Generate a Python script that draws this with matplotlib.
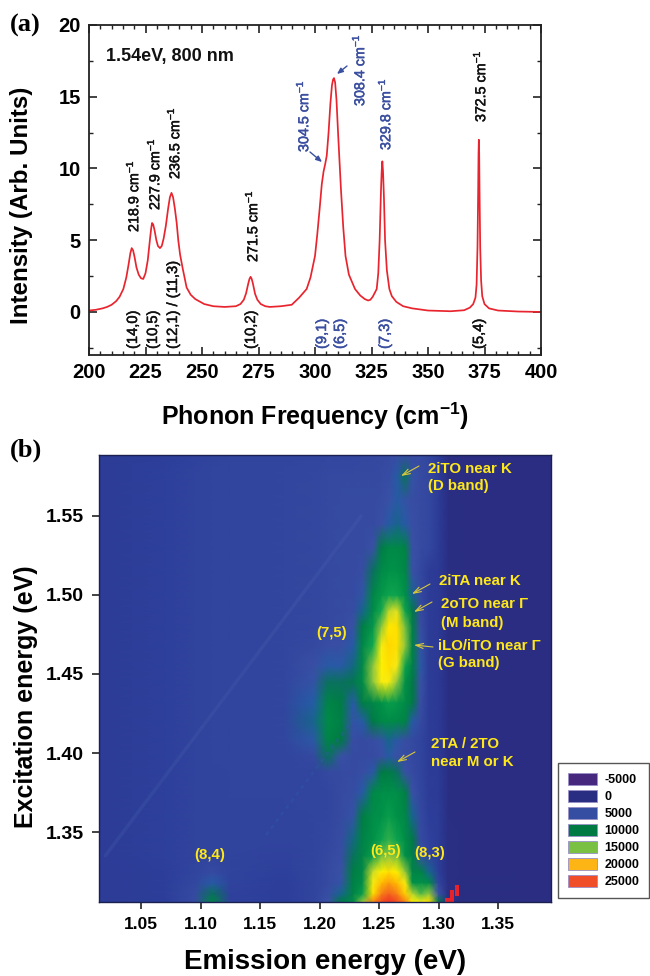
import numpy as np
import matplotlib
matplotlib.use("Agg")
import matplotlib.pyplot as plt
import matplotlib.patheffects as pe
from matplotlib.colors import LinearSegmentedColormap
from matplotlib.patches import Patch
from matplotlib.ticker import MultipleLocator

plt.rcParams['font.family'] = ['Liberation Sans', 'DejaVu Sans']
plt.rcParams['mathtext.fontset'] = 'custom'
plt.rcParams['mathtext.rm'] = 'Liberation Sans'
plt.rcParams['mathtext.bf'] = 'Liberation Sans:bold'
plt.rcParams['mathtext.it'] = 'Liberation Sans:italic'

# ---------- panel (a) spectrum ----------
freq = [200,203,206,208,210,212,213.5,215.2,216.5,217.5,218.3,218.9,219.5,220.2,221,222,223,224,225,226,227,227.5,227.9,
        228.4,229,229.8,230.5,231.4,232.2,233,234,235,235.8,236.5,237.2,238,238.8,239.5,240.3,241.5,243.2,245,247,
        251,255,260,265,267,268.5,269.5,270.5,271,271.5,272,272.5,273.5,274.5,276,278,280,285,289.7,293,
        296.3,298,300,301,302,303,303.8,304.5,305.2,306,306.8,307.5,308,308.4,308.9,309.5,310.2,311.5,312.5,313.5,
        315,317.7,320,322,323.5,324.5,325.5,326.5,327.3,328,328.6,329.2,329.5,329.8,330.1,330.5,331,331.8,332.9,334,
        336,339,343,350,360,366,368.5,370,371,371.5,371.9,372.2,372.35,372.5,372.65,372.8,373.1,373.5,374,375,377,
        381,390,400]
intensity = [0.1,0.15,0.25,0.35,0.5,0.75,1.05,1.6,2.4,3.3,4.1,4.45,4.3,3.8,3.1,2.6,2.35,2.3,2.7,3.6,5.1,5.8,6.2,
             6.1,5.7,5.0,4.6,4.45,4.6,5.1,6.0,7.2,8.0,8.3,8.0,7.2,6.2,5.0,4.0,3.0,1.7,1.2,0.9,
             0.55,0.4,0.35,0.4,0.55,0.85,1.3,2.0,2.3,2.45,2.3,2.0,1.25,0.85,0.55,0.4,0.35,0.4,0.5,1.0,
             1.6,2.4,3.9,5.4,7.1,8.9,9.8,10.3,10.9,12.5,14.5,15.8,16.2,16.3,16.0,14.8,12.5,8.5,5.9,3.9,
             2.6,1.6,1.15,0.9,0.8,0.85,1.05,1.35,1.6,2.7,5.0,8.5,9.8,10.5,9.8,8.0,5.0,2.9,1.6,1.1,
             0.7,0.4,0.25,0.1,0.05,0.12,0.3,0.55,1.0,1.9,4.5,8.5,11.0,12.0,11.0,8.5,4.5,2.2,1.1,0.55,0.25,
             0.1,0.03,0.0]

peak_labels = ["218.9", "227.9", "236.5", "271.5", "304.5", "308.4", "329.8", "372.5"]
chirality_labels = ["(14,0)", "(10,5)", "(12,1) / (11,3)", "(10,2)", "(9,1)", "(6,5)", "(7,3)", "(5,4)"]

# ---------- panel (b) map, intensity in thousands ----------
emission = [1.0147,1.07,1.095,1.11,1.125,1.17,1.195,1.207,1.218,1.228,1.236,1.245,1.252,1.258,1.265,1.272,1.278,
            1.285,1.292,1.300,1.308,1.316,1.325,1.3945]
excitation = [1.3057,1.311,1.318,1.325,1.335,1.345,1.36,1.375,1.388,1.398,1.408,1.42,1.432,1.445,1.455,1.468,
              1.48,1.49,1.50,1.515,1.53,1.545,1.56,1.575,1.5886]
map_k = [
 [3.0,3.5,4.5,8.5,3.8,3.6,4.0,5.0,7.0,10,15,24,26,27,26,24,19,18,20,7,0.8,0.5,0.4,0.3],
 [3.0,3.6,4.5,6.5,3.8,3.6,4.0,4.8,6.0,8.5,12,20,24,25,24,21,16,14,15,5,0.7,0.5,0.4,0.3],
 [3.0,3.6,4.3,5.5,3.9,3.6,4.0,4.6,5.2,8.0,10.5,18,22,23,22,18,11,11,10,4,0.7,0.5,0.4,0.3],
 [3.1,3.6,4.0,4.5,3.9,3.7,4.0,4.5,5.0,7.5,9.5,16.5,19,20,19,15,9,8.5,6,3.4,0.6,0.5,0.3,0.3],
 [3.1,3.7,3.9,4.0,3.9,3.8,4.0,4.4,4.8,6.5,9,12,14.5,15,14.5,11,8,5,4,3,0.6,0.5,0.3,0.3],
 [3.1,3.7,3.9,3.9,3.9,3.9,4.0,4.3,4.7,6.2,8.5,11,12.5,13.5,12.5,10.5,7,4.5,3.8,3,0.6,0.5,0.3,0.3],
 [3.2,3.7,3.9,3.9,3.9,3.9,4.0,4.2,4.6,5.2,7.5,10.5,11,12,11,9.5,6,4.4,3.5,3.0,0.6,0.4,0.3,0.3],
 [3.2,3.7,3.9,3.9,4.0,4.0,4.1,4.2,4.5,4.7,5.5,9.5,10.5,10.8,10.5,8,5,4.2,3.2,2.9,0.6,0.4,0.3,0.3],
 [3.2,3.7,3.9,3.9,4.0,4.0,4.1,4.4,4.5,4.6,4.8,5.4,7.0,7.5,6.5,5,4.6,4.1,3.2,2.9,0.6,0.4,0.3,0.3],
 [3.2,3.7,3.9,4.0,4.0,4.1,4.4,6.5,5.0,4.5,4.5,4.6,4.9,5.5,5.0,4.7,4.4,4.0,3.2,2.8,0.6,0.4,0.3,0.3],
 [3.2,3.7,3.9,4.0,4.0,4.2,5.4,9.0,7.0,4.8,4.6,4.8,5.2,6.0,5.4,4.8,4.4,4.0,3.2,2.8,0.6,0.4,0.3,0.3],
 [3.2,3.7,3.9,4.0,4.0,4.2,6.0,10.0,8.0,5.2,5.5,7,9.5,10,9.8,8.5,5.5,4.5,3.2,2.8,0.6,0.4,0.3,0.3],
 [3.2,3.7,3.9,4.0,4.0,4.2,5.7,9.0,7.5,5.5,7.5,9.5,11,12,11.5,10,7,4.8,3.2,2.8,0.6,0.4,0.3,0.3],
 [3.2,3.7,3.9,4.0,4.1,4.2,5.2,6.5,6.5,6.8,10,15,18,18,15,11,7,5,3.2,2.8,0.6,0.4,0.3,0.3],
 [3.2,3.7,3.9,4.0,4.1,4.2,4.9,5.6,5.6,6.2,9.5,15,19,20,17.5,12.5,8,5.4,3.2,2.8,0.6,0.4,0.3,0.3],
 [3.2,3.7,3.9,4.0,4.1,4.2,4.4,4.8,4.9,5.6,9.2,13,18,20.5,20,15,8.5,5.2,3.2,2.8,0.6,0.4,0.3,0.3],
 [3.2,3.7,3.9,4.0,4.1,4.2,4.3,4.4,4.5,5.0,7.5,11.5,15,19.5,20,14.5,8,4.8,3.2,2.8,0.6,0.4,0.3,0.3],
 [3.2,3.7,3.9,4.0,4.1,4.2,4.3,4.4,4.5,4.7,6.0,10,13,16,17,12.5,7,4.6,3.2,2.8,0.6,0.4,0.3,0.3],
 [3.2,3.7,3.9,4.0,4.1,4.2,4.3,4.4,4.5,4.6,5.3,9.2,11.5,12.5,12.5,11,6,4.4,3.2,2.8,0.6,0.4,0.3,0.3],
 [3.2,3.7,3.9,4.0,4.1,4.2,4.3,4.4,4.5,4.6,4.8,6.5,10,11,11,9.5,5,4.3,3.2,2.8,0.6,0.4,0.3,0.3],
 [3.2,3.7,3.9,4.0,4.1,4.2,4.3,4.4,4.5,4.6,4.6,5.0,7.5,9.5,9.8,8.5,5,4.5,4.3,3.0,0.6,0.4,0.3,0.3],
 [3.2,3.7,3.9,4.0,4.1,4.2,4.3,4.4,4.5,4.5,4.5,4.6,4.9,5.6,6.0,5.6,4.9,4.6,4.3,3.0,0.6,0.4,0.3,0.3],
 [3.2,3.7,3.9,4.0,4.1,4.2,4.3,4.4,4.5,4.5,4.5,4.5,4.7,5.0,5.5,5.2,4.8,4.6,4.3,3.0,0.6,0.4,0.3,0.3],
 [3.2,3.7,3.9,4.0,4.1,4.2,4.3,4.4,4.4,4.4,4.4,4.4,4.5,4.7,5.6,6.5,5.2,4.6,4.3,3.0,0.6,0.4,0.3,0.3],
 [3.2,3.6,3.8,3.9,4.0,4.1,4.1,4.2,4.2,4.2,4.3,4.3,4.4,4.5,4.7,4.8,4.6,4.5,4.2,3.0,0.6,0.4,0.3,0.3],
]
streak_em = [1.02, 1.235]
streak_ex = [1.335, 1.55]
streak2_em = [1.155, 1.235]
streak2_ex = [1.348, 1.428]
hot_em = [1.3075, 1.3115, 1.3155]
hot_top = [1.3085, 1.3135, 1.3165]
hot_bottom = [1.3057, 1.3057, 1.3095]

legend_levels = ["-5000", "0", "5000", "10000", "15000", "20000", "25000"]
legend_colors = ["#46287F", "#2A2E82", "#354EA2", "#007A43", "#7AC143", "#FDB515", "#F04E29"]

W, H = 650, 976
fig = plt.figure(figsize=(6.5, 9.76), dpi=100, facecolor='white')


def rect(l, t, r, b):
    return [l / W, 1 - b / H, (r - l) / W, (b - t) / H]


def px(x, y):
    return x / W, 1 - y / H


DARK = '#222222'
RED = '#E8252E'
BLUE = '#3B4FA0'
YEL = '#FFE81A'

# ---------- (a) ----------
ax = fig.add_axes(rect(89, 25, 541, 355))
ax.plot(freq, intensity, color=RED, lw=1.25)
ax.set_xlim(200, 400)
ax.set_ylim(-3, 20)
ax.xaxis.set_major_locator(MultipleLocator(25))
ax.xaxis.set_minor_locator(MultipleLocator(5))
ax.yaxis.set_major_locator(MultipleLocator(5))
ax.yaxis.set_minor_locator(MultipleLocator(2.5))
ax.tick_params(which='major', direction='in', length=6, width=1.2, top=True, right=True, color=DARK, pad=6)
ax.tick_params(which='minor', direction='in', length=3, width=1.0, top=True, right=True, color=DARK)
ax.xaxis.set_major_formatter(plt.FuncFormatter(lambda v, p: f"{v:.0f}"))
for s in ax.spines.values():
    s.set_linewidth(1.3)
    s.set_color(DARK)
for lab in ax.get_xticklabels() + ax.get_yticklabels():
    lab.set_fontweight('bold')
    lab.set_fontsize(14.5)

semi = [pe.withStroke(linewidth=0.35, foreground='#111111')]
semi_b = [pe.withStroke(linewidth=0.35, foreground=BLUE)]
peak_px = [(132, 232), (153, 210), (173, 179), (251, 262), (302, 152), (358, 106), (384, 150), (479, 122)]
peak_col = ['#111111', '#111111', '#111111', '#111111', BLUE, BLUE, BLUE, '#111111']
for name, (x, y), c in zip(peak_labels, peak_px, peak_col):
    fig.text(*px(x, y), name + " cm$^{-1}$", rotation=90, ha='center', va='bottom', color=c, fontsize=10.3,
             path_effects=semi if c != BLUE else semi_b)
chi_px = [133, 153, 173, 251, 322, 340, 385, 479]
chi_col = ['#111111', '#111111', '#111111', '#111111', BLUE, BLUE, BLUE, '#111111']
for name, x, c in zip(chirality_labels, chi_px, chi_col):
    fig.text(*px(x, 349), name, rotation=90, ha='center', va='bottom', color=c, fontsize=10.6,
             path_effects=semi if c != BLUE else semi_b)
fig.text(*px(106, 57), "1.54eV, 800 nm", fontsize=13, fontweight='bold', va='center', color='#111111')
for start, end in [((310, 152), (322, 162)), ((347, 66), (337, 74))]:
    ax.annotate("", xy=px(*end), xytext=px(*start), xycoords='figure fraction', textcoords='figure fraction',
                arrowprops=dict(arrowstyle='-|>,head_width=0.15,head_length=0.35', color=BLUE, lw=1.0,
                                shrinkA=0, shrinkB=0))
fig.text(*px(22, 205), "Intensity (Arb. Units)", rotation=90, ha='center', va='center', fontsize=17.4, fontweight='bold')
fig.text(*px(315, 416), "Phonon Frequency (cm$^{\\mathbf{-1}}$)", ha='center', va='center', fontsize=18, fontweight='bold')

# ---------- (b) ----------
stops = [(-5, '#3F2A7F'), (0, '#2A2C80'), (3.5, '#2C3E9A'), (5, '#3A50A5'), (5.8, '#1F5FA5'), (6.5, '#0B7060'),
         (7, '#007A45'), (11, '#009048'), (13, '#10A850'), (15, '#8CC63F'), (17.5, '#F4E81A'), (19, '#FFF200'),
         (22, '#FFC000'), (25, '#F4651F'), (27, '#EE3124')]
cmap = LinearSegmentedColormap.from_list('pl', [((v + 5) / 32, c) for v, c in stops])
bx = fig.add_axes(rect(99, 455, 551, 902))
bx.pcolormesh(emission, excitation, np.array(map_k), cmap=cmap, vmin=-5, vmax=27, shading='gouraud')
bx.plot(streak_em, streak_ex, color='#4A62B0', lw=2.5, alpha=0.25, solid_capstyle='round')
bx.plot(streak2_em, streak2_ex, color='#2F5AA5', lw=2.0, alpha=0.4, ls=(0, (1.5, 1.5)))
bx.bar(hot_em, np.array(hot_top) - np.array(hot_bottom), width=0.0035, bottom=hot_bottom, color='#E8222A')
bx.set_xlim(1.0147, 1.3945)
bx.set_ylim(1.3057, 1.5886)
bx.set_xticks([1.05, 1.10, 1.15, 1.20, 1.25, 1.30, 1.35])
bx.set_yticks([1.35, 1.40, 1.45, 1.50, 1.55])
bx.xaxis.set_major_formatter(plt.FormatStrFormatter('%.2f'))
bx.yaxis.set_major_formatter(plt.FormatStrFormatter('%.2f'))
bx.tick_params(direction='out', length=5, width=1.2, color=DARK, pad=6)
for s in bx.spines.values():
    s.set_linewidth(1.0)
    s.set_color('#1a2050')
for lab in bx.get_xticklabels():
    lab.set_fontweight('bold')
    lab.set_fontsize(12.5)
for lab in bx.get_yticklabels():
    lab.set_fontweight('bold')
    lab.set_fontsize(14)
fig.text(*px(26, 697), "Excitation energy (eV)", rotation=90, ha='center', va='center', fontsize=18, fontweight='bold')
fig.text(*px(325, 962), "Emission energy (eV)", ha='center', va='center', fontsize=20, fontweight='bold')

notes = [("2iTO near K", 428, 469), ("(D band)", 428, 486), ("2iTA near K", 439, 581),
         ("2oTO near \u0393", 441, 604), ("(M band)", 441, 623), ("iLO/iTO near \u0393", 438, 646),
         ("(G band)", 438, 663), ("(7,5)", 316, 633), ("2TA / 2TO", 431, 744), ("near M or K", 431, 762),
         ("(8,4)", 194, 855), ("(6,5)", 370, 851), ("(8,3)", 414, 853)]
for t, x, y in notes:
    fig.text(*px(x, y), t, color=YEL, fontsize=10.8, fontweight='bold', va='center', ha='left')
for start, end in [((419, 466), (401, 476)), ((430, 584), (412, 594)), ((432, 602), (414, 612)),
                   ((433, 647), (414, 645)), ((415, 752), (397, 762))]:
    bx.annotate("", xy=px(*end), xytext=px(*start), xycoords='figure fraction', textcoords='figure fraction',
                arrowprops=dict(arrowstyle='->,head_width=0.18,head_length=0.55', color='#D9C93A', lw=0.8,
                                shrinkA=0, shrinkB=0))

handles = [Patch(facecolor=c, edgecolor='#9a8fc8', linewidth=0.6) for c in legend_colors]
leg = fig.legend(handles, legend_levels, loc='upper left', bbox_to_anchor=px(558, 763), ncol=1, frameon=True,
                 fancybox=False, edgecolor='#555555', framealpha=1, labelspacing=0.3, handlelength=2.3,
                 handleheight=1.1, handletextpad=0.6, borderpad=0.8, borderaxespad=0,
                 prop={'weight': 'bold', 'size': 9})
leg.get_frame().set_linewidth(1.0)

fig.text(*px(10, 25), "(a)", family='Liberation Serif', fontweight='bold', fontsize=19, va='center')
fig.text(*px(10, 450), "(b)", family='Liberation Serif', fontweight='bold', fontsize=19, va='center')

fig.savefig('out.png', dpi=100, facecolor='white')
